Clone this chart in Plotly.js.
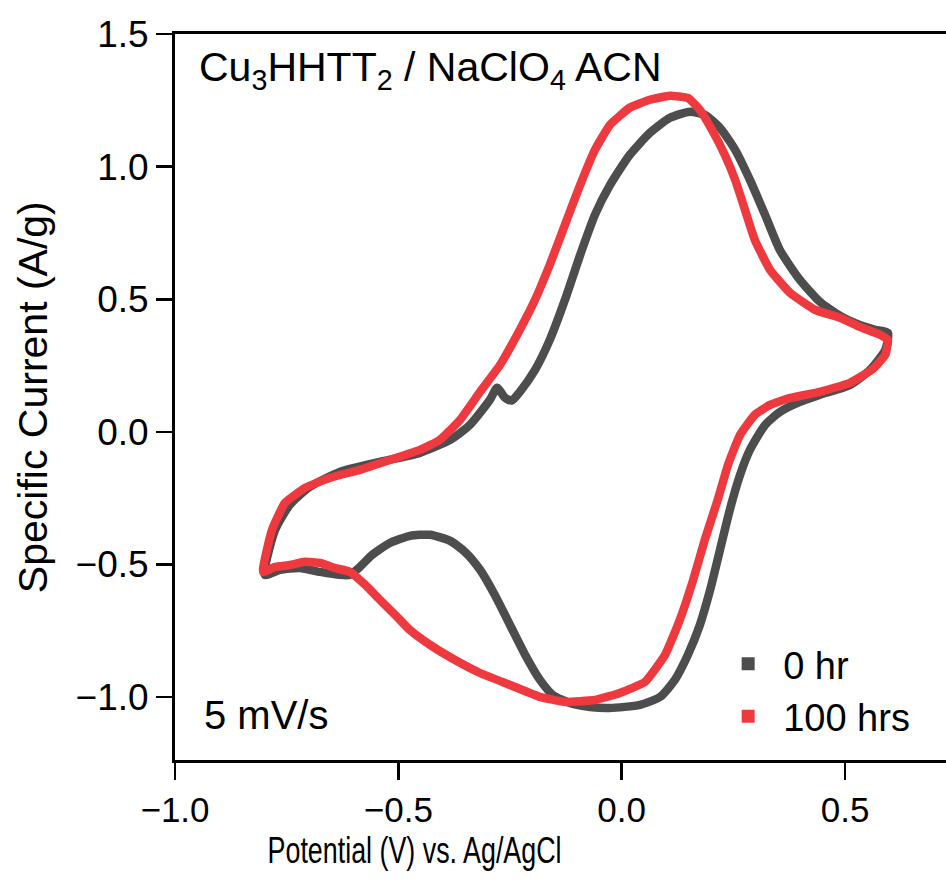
<!DOCTYPE html>
<html><head><meta charset="utf-8">
<script src="https://cdn.plot.ly/plotly-3.0.1.min.js"></script>
<style>body{margin:0;background:#fff}#c{width:946px;height:890px}</style>
</head><body><div id="c"></div>
<script>
const x0hr = [-0.799,-0.776,-0.743,-0.698,-0.631,-0.541,-0.452,-0.384,-0.340,-0.295,-0.279,-0.261,-0.246,-0.228,-0.194,-0.161,-0.127,-0.093,-0.060,-0.026,0.018,0.063,0.108,0.153,0.186,0.220,0.254,0.287,0.321,0.354,0.399,0.444,0.489,0.533,0.567,0.596,0.590,0.556,0.511,0.444,0.399,0.354,0.321,0.287,0.265,0.242,0.220,0.198,0.175,0.148,0.119,0.086,0.041,-0.027,-0.071,-0.116,-0.154,-0.183,-0.216,-0.250,-0.284,-0.317,-0.351,-0.384,-0.429,-0.474,-0.519,-0.559,-0.586,-0.608,-0.631,-0.675,-0.720,-0.765,-0.799];
const y0hr = [-0.539,-0.37,-0.275,-0.207,-0.151,-0.113,-0.079,-0.03,0.026,0.121,0.166,0.128,0.118,0.151,0.234,0.347,0.498,0.667,0.818,0.931,1.044,1.127,1.184,1.207,1.195,1.146,1.063,0.950,0.818,0.686,0.573,0.490,0.437,0.403,0.385,0.373,0.309,0.234,0.177,0.140,0.113,0.075,0.026,-0.068,-0.162,-0.294,-0.445,-0.596,-0.728,-0.841,-0.935,-0.999,-1.029,-1.041,-1.037,-1.022,-0.992,-0.935,-0.841,-0.728,-0.615,-0.520,-0.452,-0.411,-0.388,-0.392,-0.419,-0.464,-0.509,-0.539,-0.539,-0.528,-0.513,-0.520,-0.539];
const x100hr = [-0.803,-0.783,-0.754,-0.709,-0.653,-0.586,-0.519,-0.452,-0.407,-0.362,-0.317,-0.272,-0.228,-0.194,-0.161,-0.127,-0.093,-0.060,-0.026,0.018,0.063,0.108,0.148,0.175,0.202,0.231,0.254,0.276,0.298,0.332,0.377,0.433,0.489,0.533,0.578,0.596,0.590,0.560,0.511,0.444,0.377,0.332,0.298,0.265,0.238,0.215,0.186,0.160,0.130,0.097,0.052,-0.004,-0.060,-0.127,-0.183,-0.250,-0.317,-0.373,-0.429,-0.474,-0.507,-0.541,-0.574,-0.608,-0.642,-0.675,-0.709,-0.743,-0.776,-0.803];
const y100hr = [-0.528,-0.370,-0.268,-0.211,-0.173,-0.143,-0.106,-0.068,-0.030,0.045,0.151,0.253,0.385,0.498,0.630,0.781,0.931,1.063,1.158,1.222,1.252,1.267,1.259,1.214,1.139,1.044,0.950,0.837,0.724,0.611,0.524,0.460,0.430,0.396,0.366,0.347,0.290,0.234,0.185,0.151,0.128,0.102,0.064,-0.011,-0.124,-0.256,-0.407,-0.558,-0.709,-0.841,-0.943,-0.984,-1.011,-1.018,-0.999,-0.954,-0.909,-0.860,-0.803,-0.747,-0.690,-0.634,-0.577,-0.528,-0.513,-0.494,-0.490,-0.502,-0.509,-0.528];
const seriesNames = ["0 hr","100 hrs"];
const xTicks = [-1.0,-0.5,0.0,0.5];
const xTickText = ["\u22121.0","\u22120.5","0.0","0.5"];
const yTicks = [-1.0,-0.5,0.0,0.5,1.0,1.5];
const yTickText = ["\u22121.0","\u22120.5","0.0","0.5","1.0","1.5"];
const xTitle = "Potential (V) vs. Ag/AgCl";
const yTitle = "Specific Current (A/g)";

const gray = "#4d4d4d", red = "#ee3a3f";
const traces = [
  {x:x0hr, y:y0hr, mode:"lines", line:{color:gray, width:8.5, shape:"spline", smoothing:0.6}, showlegend:false, hoverinfo:"skip"},
  {x:x100hr, y:y100hr, mode:"lines", line:{color:red, width:8.5, shape:"spline", smoothing:0.4}, showlegend:false, hoverinfo:"skip"},
  {x:[null], y:[null], mode:"markers", name:seriesNames[0], marker:{symbol:"square", size:13, color:gray}},
  {x:[null], y:[null], mode:"markers", name:seriesNames[1], marker:{symbol:"square", size:13, color:red}}
];
const reg = "Liberation Sans, Arial, sans-serif";
const layout = {
  width:946, height:890,
  margin:{l:175, r:0, t:34, b:130},
  paper_bgcolor:"#fff", plot_bgcolor:"#fff",
  showlegend:true,
  legend:{x:0.698, y:0.017, xanchor:"left", yanchor:"bottom", bgcolor:"rgba(0,0,0,0)", font:{family:reg, size:38, color:"#000"}, itemwidth:60, tracegroupgap:0},
  xaxis:{range:[-1.0,0.726], tickvals:xTicks, ticktext:xTickText, ticks:"outside", ticklen:17, tickwidth:2.5, tickcolor:"#000",
    showline:true, linecolor:"#000", linewidth:3, mirror:true, showgrid:false, zeroline:false,
    tickfont:{family:reg, size:35, color:"#000"}},
  yaxis:{range:[-1.237,1.5], tickvals:yTicks, ticktext:yTickText, ticks:"outside", ticklen:16, tickwidth:2.5, tickcolor:"#000",
    showline:true, linecolor:"#000", linewidth:3, mirror:false, showgrid:false, zeroline:false,
    tickfont:{family:reg, size:37, color:"#000"}},
  annotations:[
    {xref:"paper", yref:"paper", x:0.029, y:0.950, xanchor:"left", yanchor:"middle", showarrow:false,
     text:"Cu<sub>3</sub>HHTT<sub>2</sub> / NaClO<sub>4</sub> ACN", font:{family:reg, size:41, color:"#000"}},
    {xref:"paper", yref:"paper", x:0.035, y:0.062, xanchor:"left", yanchor:"middle", showarrow:false,
     text:"5 mV/s", font:{family:reg, size:40, color:"#000"}},
    {xref:"paper", yref:"paper", x:0.311, y:-0.125, xanchor:"center", yanchor:"middle", showarrow:false,
     text:xTitle, font:{family:reg, size:37, color:"#000"}},
    {xref:"paper", yref:"paper", x:-0.184, y:0.5, xanchor:"center", yanchor:"middle", showarrow:false, textangle:-90,
     text:yTitle, font:{family:reg, size:41, color:"#000"}}
  ]
};
Plotly.newPlot("c", traces, layout, {staticPlot:true}).then(function(){
  document.querySelectorAll("#c .annotation-text").forEach(function(t){
    if (t.textContent === xTitle) { t.setAttribute("textLength","294"); t.setAttribute("lengthAdjust","spacingAndGlyphs"); }
  });
});
</script></body></html>
